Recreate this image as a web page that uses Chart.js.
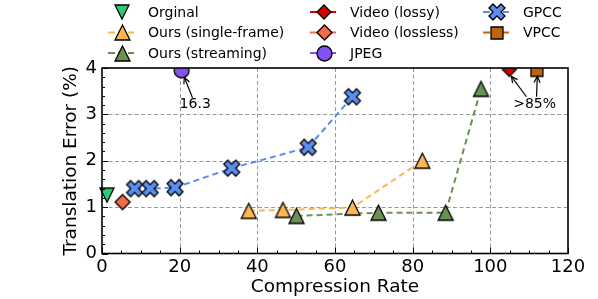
<!DOCTYPE html>
<html><head><meta charset="utf-8">
<script src="https://cdn.jsdelivr.net/npm/chart.js@4.4.0/dist/chart.umd.min.js"></script>
<style>html,body{margin:0;padding:0;background:#fff}</style>
</head><body>
<canvas id="c" width="598" height="299" style="width:598px;height:299px;display:block"></canvas>
<script>
// ---------- data ----------
const seriesNames = ['Orginal','Ours (single-frame)','Ours (streaming)','Video (lossy)','Video (lossless)','JPEG','GPCC','VPCC'];
const origX = [1.3];                    const origY = [1.26];
const singleX = [37.8, 46.6, 64.5, 82.5]; const singleY = [0.92, 0.94, 0.99, 2.0];
const streamX = [50.1, 71.2, 88.5, 97.6]; const streamY = [0.81, 0.88, 0.88, 3.55];
const lossyX = [104.9];                 const lossyY = [3.97];
const losslessX = [5.3];                const losslessY = [1.11];
const jpegX = [20.5];                   const jpegY = [3.95];
const gpccX = [8.4, 12.4, 18.8, 33.4, 53.1, 64.5]; const gpccY = [1.40, 1.40, 1.42, 1.84, 2.29, 3.38];
const vpccX = [112.0];                  const vpccY = [3.95];
const xTicks = [0, 20, 40, 60, 80, 100, 120];
const yTicks = [0, 1, 2, 3, 4];
const annotationTexts = ['16.3', '>85%'];
const annotationAt = [[24.0, 3.21], [111.4, 3.21]];
const arrowTails = [[[23.3, 3.36]], [[109.3, 3.38], [111.9, 3.38]]];
const arrowTips  = [[[21.2, 3.80]], [[105.4, 3.82], [112.1, 3.82]]];

// ---------- styles ----------
const FONT = 'DejaVu Sans';
const colors = ['#2ecc71','#fdb650','#6a9155','#d40000','#f26b4c','#8450f2','#5b8def','#c0640c'];
const shapes = ['tri-down','tri-up','tri-up','diamond','diamond','circle','x','square'];
const sizes  = [14, 15, 15, 14, 15, 15, 16, 12];
const hasLine = [false, true, true, true, true, true, true, true];

function makeMarker(shape, size, fill) {
  const pad = 3, S = Math.ceil(size + 2 * pad);
  const c = document.createElement('canvas'); c.width = S; c.height = S;
  const g = c.getContext('2d'); g.translate(S / 2, S / 2);
  g.fillStyle = fill; g.strokeStyle = '#000'; g.lineWidth = 1.3; g.lineJoin = 'miter';
  const r = size / 2;
  g.beginPath();
  if (shape === 'tri-up') { g.moveTo(0, -r); g.lineTo(r, r); g.lineTo(-r, r); g.closePath(); }
  else if (shape === 'tri-down') { g.moveTo(0, r); g.lineTo(r, -r); g.lineTo(-r, -r); g.closePath(); }
  else if (shape === 'diamond') { g.moveTo(0, -r); g.lineTo(r, 0); g.lineTo(0, r); g.lineTo(-r, 0); g.closePath(); }
  else if (shape === 'circle') { g.arc(0, 0, r, 0, Math.PI * 2); }
  else if (shape === 'square') { g.rect(-r, -r, size, size); }
  else if (shape === 'x') {
    const k = size / 5.657;
    const pts = [[-1,-3],[-1,-1],[-3,-1],[-3,1],[-1,1],[-1,3],[1,3],[1,1],[3,1],[3,-1],[1,-1],[1,-3]];
    const a = Math.PI / 4, ca = Math.cos(a), sa = Math.sin(a);
    pts.forEach((p, i) => {
      const x = (p[0] * ca - p[1] * sa) * k, y = (p[0] * sa + p[1] * ca) * k;
      if (i === 0) g.moveTo(x, y); else g.lineTo(x, y);
    });
    g.closePath();
  }
  g.fill(); g.stroke();
  return c;
}
const markers = shapes.map((s, i) => makeMarker(s, sizes[i], colors[i]));

const xs = [origX, singleX, streamX, lossyX, losslessX, jpegX, gpccX, vpccX];
const ys = [origY, singleY, streamY, lossyY, losslessY, jpegY, gpccY, vpccY];

const datasets = seriesNames.map((name, i) => ({
  label: name,
  data: xs[i].map((x, j) => ({ x: x, y: ys[i][j] })),
  borderColor: colors[i],
  backgroundColor: colors[i],
  borderWidth: 2,
  borderDash: [6, 4],
  showLine: hasLine[i] && xs[i].length > 1,
  pointStyle: markers[i],
  pointRadius: 8,
  pointHoverRadius: 8,
  tension: 0,
  fill: false,
  clip: i === 0 ? false : undefined
}));

// ---------- plugins ----------
const frame = {
  id: 'frame',
  beforeDatasetsDraw(chart) {
    const { ctx, chartArea: a, scales: { x, y } } = chart;
    ctx.save();
    ctx.strokeStyle = '#9a9a9a'; ctx.lineWidth = 1; ctx.setLineDash([4, 2.5]);
    xTicks.slice(1, -1).forEach(v => { const px = Math.round(x.getPixelForValue(v)) + 0.5;
      ctx.beginPath(); ctx.moveTo(px, a.top); ctx.lineTo(px, a.bottom); ctx.stroke(); });
    yTicks.slice(1, -1).forEach(v => { const py = Math.round(y.getPixelForValue(v)) + 0.5;
      ctx.beginPath(); ctx.moveTo(a.left, py); ctx.lineTo(a.right, py); ctx.stroke(); });
    ctx.restore();
  },
  afterDatasetsDraw(chart) {
    const { ctx, chartArea: a, scales: { x, y } } = chart;
    ctx.save();
    ctx.strokeStyle = '#000'; ctx.lineWidth = 1;
    // minor and major ticks, inward
    for (let v = 0; v <= 120; v += 5) {
      const px = Math.round(x.getPixelForValue(v)) + 0.5, len = v % 20 === 0 ? 6 : 3;
      ctx.beginPath(); ctx.moveTo(px, a.bottom); ctx.lineTo(px, a.bottom - len); ctx.stroke();
    }
    for (let i = 0; i <= 20; i++) {
      const v = i * 0.2;
      const py = Math.round(y.getPixelForValue(v)) + 0.5, len = i % 5 === 0 ? 6 : 3;
      ctx.beginPath(); ctx.moveTo(a.left, py); ctx.lineTo(a.left + len, py); ctx.stroke();
    }
    ctx.lineWidth = 1.6;
    ctx.strokeRect(a.left, a.top, a.right - a.left, a.bottom - a.top);
    // annotations
    ctx.fillStyle = '#000'; ctx.font = '14px "' + FONT + '"';
    ctx.textAlign = 'center'; ctx.textBaseline = 'middle';
    ctx.lineWidth = 1.2;
    annotationTexts.forEach((t, i) => {
      ctx.fillText(t, x.getPixelForValue(annotationAt[i][0]), y.getPixelForValue(annotationAt[i][1]));
      arrowTails[i].forEach((tail, j) => {
        const tip = arrowTips[i][j];
        const x1 = x.getPixelForValue(tail[0]), y1 = y.getPixelForValue(tail[1]);
        const x2 = x.getPixelForValue(tip[0]), y2 = y.getPixelForValue(tip[1]);
        ctx.beginPath(); ctx.moveTo(x1, y1); ctx.lineTo(x2, y2); ctx.stroke();
        const ang = Math.atan2(y2 - y1, x2 - x1), h = 7, w = 0.45;
        ctx.beginPath();
        ctx.moveTo(x2 - h * Math.cos(ang - w), y2 - h * Math.sin(ang - w));
        ctx.lineTo(x2, y2);
        ctx.lineTo(x2 - h * Math.cos(ang + w), y2 - h * Math.sin(ang + w));
        ctx.stroke();
      });
    });
    ctx.restore();
  },
  afterDraw(chart) {
    const ctx = chart.ctx;
    const colX = [122, 324, 497], rowY = [12, 32.5, 53];
    ctx.save();
    ctx.font = '14px "' + FONT + '"'; ctx.textBaseline = 'middle'; ctx.textAlign = 'left';
    seriesNames.forEach((name, i) => {
      const mx = colX[Math.floor(i / 3)], my = rowY[i % 3];
      if (hasLine[i]) {
        ctx.strokeStyle = colors[i]; ctx.lineWidth = 2; ctx.setLineDash([7, 3]);
        ctx.beginPath(); ctx.moveTo(mx - 14, my); ctx.lineTo(mx + 12, my); ctx.stroke();
        ctx.setLineDash([]);
      }
      const m = markers[i];
      ctx.drawImage(m, Math.round(mx - m.width / 2), Math.round(my - m.height / 2));
      ctx.fillStyle = '#000';
      ctx.fillText(name, mx + 26, my + 1);
    });
    ctx.restore();
  }
};

new Chart(document.getElementById('c'), {
  type: 'line',
  data: { datasets },
  options: {
    responsive: false,
    animation: false,
    events: [],
    layout: { padding: { left: 0, right: 30, top: 68, bottom: 0 } },
    plugins: { legend: { display: false }, tooltip: { enabled: false } },
    scales: {
      x: {
        type: 'linear', min: 0, max: 120,
        afterBuildTicks: s => { s.ticks = xTicks.map(v => ({ value: v })); },
        afterFit: s => { s.height = 45.5; },
        grid: { display: false, drawTicks: false },
        border: { display: false },
        ticks: { color: '#000', font: { family: FONT, size: 18 }, padding: 3, maxRotation: 0 },
        title: { display: true, text: 'Compression Rate', color: '#000', font: { family: FONT, size: 18.5 }, padding: { top: 0, bottom: 1 } }
      },
      y: {
        type: 'linear', min: 0, max: 4,
        afterBuildTicks: s => { s.ticks = yTicks.map(v => ({ value: v })); },
        afterFit: s => { s.width = 102; },
        grid: { display: false, drawTicks: false },
        border: { display: false },
        ticks: { color: '#000', font: { family: FONT, size: 18 }, padding: 5 },
        title: { display: true, text: 'Translation Error (%)', color: '#000', font: { family: FONT, size: 18.5 }, padding: { top: 60, bottom: 0 } }
      }
    }
  },
  plugins: [frame]
});
</script>
</body></html>
